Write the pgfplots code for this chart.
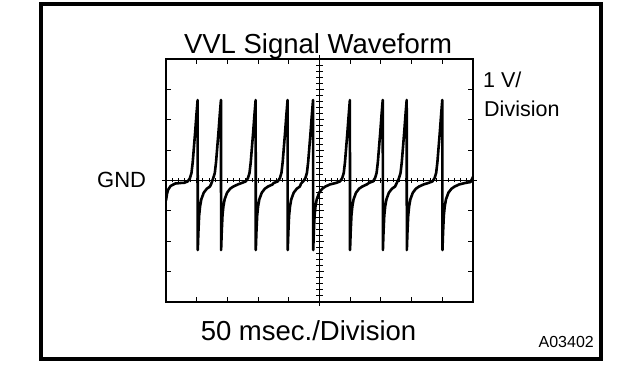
\documentclass[border=0pt]{standalone}
\usepackage{fontspec}
\setmainfont{Liberation Sans}
\usepackage{pgfplots}
\pgfplotsset{compat=1.18}
\begin{document}
\begin{tikzpicture}[x=1pt,y=1pt]
\useasboundingbox (0,0) rectangle (640,388);
% outer frame
\draw[line width=3.6pt] (41,384) rectangle (601,29);
% horizontal centre line (GND) with minor ticks
\begin{axis}[at={(166pt,86pt)}, anchor=south west, scale only axis,
  width=307pt, height=243pt,
  xmin=-5, xmax=5, ymin=-4, ymax=4,
  axis x line=middle, axis y line=none,
  axis line style={-, line width=1.3pt, shorten <=-4pt, shorten >=-4pt},
  xtick={-5,...,5}, minor x tick num=4,
  xticklabels={}, tick align=center,
  major tick length=5pt, minor tick length=4pt,
  every tick/.style={line width=0.9pt, black}]
\end{axis}
% vertical centre line with minor ticks
\begin{axis}[at={(166pt,86pt)}, anchor=south west, scale only axis,
  width=307pt, height=243pt,
  xmin=-5, xmax=5, ymin=-4, ymax=4,
  axis y line=middle, axis x line=none,
  axis line style={-, line width=1.3pt, shorten <=-4pt, shorten >=-4pt},
  ytick={-4,...,4}, minor y tick num=4,
  yticklabels={}, tick align=center,
  major tick length=8pt, minor tick length=7pt,
  every tick/.style={line width=0.9pt, black}]
\end{axis}
% main box and waveform
\begin{axis}[at={(166pt,86pt)}, anchor=south west, scale only axis,
  width=307pt, height=243pt,
  xmin=0, xmax=10, ymin=-4, ymax=4,
  axis line style={line width=1.3pt},
  xtick={0,...,10}, ytick={-4,...,4},
  xticklabels={}, yticklabels={},
  tick align=inside, major tick length=5pt,
  every tick/.style={line width=1pt, black}]
\addplot[black, line width=2.6pt, line join=round] coordinates {
(0,-0.66) (0.03,-0.45) (0.07,-0.3) (0.15,-0.18) (0.3,-0.1) (0.5,-0.08)
(0.58,-0.08) (0.71,-0.03) (0.78,0.08) (0.83,0.25) (0.87,0.6) (0.91,1.1) (0.95,1.6) (0.99,2.15) (1.03,2.65)
(1.035,-2.29) (1.055,-1.7) (1.08,-1.15) (1.11,-0.85) (1.15,-0.62) (1.23,-0.4) (1.33,-0.27) (1.43,-0.2)
(1.47,-0.12) (1.54,0.08) (1.59,0.25) (1.63,0.6) (1.67,1.1) (1.71,1.6) (1.75,2.15) (1.79,2.65)
(1.795,-2.29) (1.815,-1.7) (1.84,-1.15) (1.87,-0.85) (1.91,-0.62) (1.99,-0.4) (2.09,-0.27) (2.19,-0.2) (2.34,-0.13)
(2.47,-0.08) (2.60,-0.03) (2.67,0.08) (2.72,0.25) (2.76,0.6) (2.80,1.1) (2.84,1.6) (2.88,2.15) (2.92,2.65)
(2.925,-2.29) (2.945,-1.7) (2.97,-1.15) (3.00,-0.85) (3.04,-0.62) (3.12,-0.4) (3.22,-0.27) (3.32,-0.2) (3.47,-0.13)
(3.51,-0.08) (3.64,-0.03) (3.71,0.08) (3.76,0.25) (3.80,0.6) (3.84,1.1) (3.88,1.6) (3.92,2.15) (3.96,2.65)
(3.965,-2.29) (3.985,-1.7) (4.01,-1.15) (4.04,-0.85) (4.08,-0.62) (4.16,-0.4) (4.26,-0.27) (4.36,-0.2)
(4.40,-0.1) (4.47,-0.03) (4.54,0.08) (4.59,0.25) (4.63,0.6) (4.67,1.1) (4.71,1.6) (4.75,2.15) (4.79,2.65)
(4.795,-2.29) (4.815,-1.7) (4.84,-1.15) (4.87,-0.85) (4.91,-0.62) (4.99,-0.4) (5.09,-0.27) (5.19,-0.2) (5.34,-0.13)
(5.54,-0.08) (5.67,-0.03) (5.74,0.08) (5.79,0.25) (5.83,0.6) (5.87,1.1) (5.91,1.6) (5.95,2.15) (5.99,2.65)
(5.995,-2.29) (6.015,-1.7) (6.04,-1.15) (6.07,-0.85) (6.11,-0.62) (6.19,-0.4) (6.29,-0.27) (6.39,-0.2) (6.54,-0.13)
(6.61,-0.08) (6.74,-0.03) (6.81,0.08) (6.86,0.25) (6.90,0.6) (6.94,1.1) (6.98,1.6) (7.02,2.15) (7.06,2.65)
(7.065,-2.29) (7.085,-1.7) (7.11,-1.15) (7.14,-0.85) (7.18,-0.62) (7.26,-0.4) (7.36,-0.27) (7.46,-0.2)
(7.50,-0.12) (7.59,0.08) (7.64,0.25) (7.68,0.6) (7.72,1.1) (7.76,1.6) (7.80,2.15) (7.84,2.65)
(7.845,-2.29) (7.865,-1.7) (7.89,-1.15) (7.92,-0.85) (7.96,-0.62) (8.04,-0.4) (8.14,-0.27) (8.24,-0.2) (8.39,-0.13)
(8.55,-0.08) (8.68,-0.03) (8.75,0.08) (8.80,0.25) (8.84,0.6) (8.88,1.1) (8.92,1.6) (8.96,2.15) (9.00,2.65)
(9.005,-2.29) (9.025,-1.7) (9.05,-1.15) (9.08,-0.85) (9.12,-0.62) (9.20,-0.4) (9.30,-0.27) (9.40,-0.2) (9.55,-0.13)
(9.75,-0.08) (9.92,-0.05) (10,0.12)
};
\end{axis}
% texts
\node[anchor=base, inner sep=0pt] at (318,334.4) {\fontsize{27.5}{30}\selectfont VVL Signal Waveform};
\node[anchor=base, inner sep=0pt] at (308.5,47) {\fontsize{27.5}{30}\selectfont 50 msec./Division};
\node[anchor=base west, inner sep=0pt] at (97,200) {\fontsize{22}{24}\selectfont GND};
\node[anchor=base west, inner sep=0pt] at (483,300) {\fontsize{21.5}{24}\selectfont 1 V/};
\node[anchor=base west, inner sep=0pt] at (484,271) {\fontsize{21.5}{24}\selectfont Division};
\node[anchor=base east, inner sep=0pt] at (594,40) {\fontsize{16}{18}\selectfont A03402};
\end{tikzpicture}
\end{document}
